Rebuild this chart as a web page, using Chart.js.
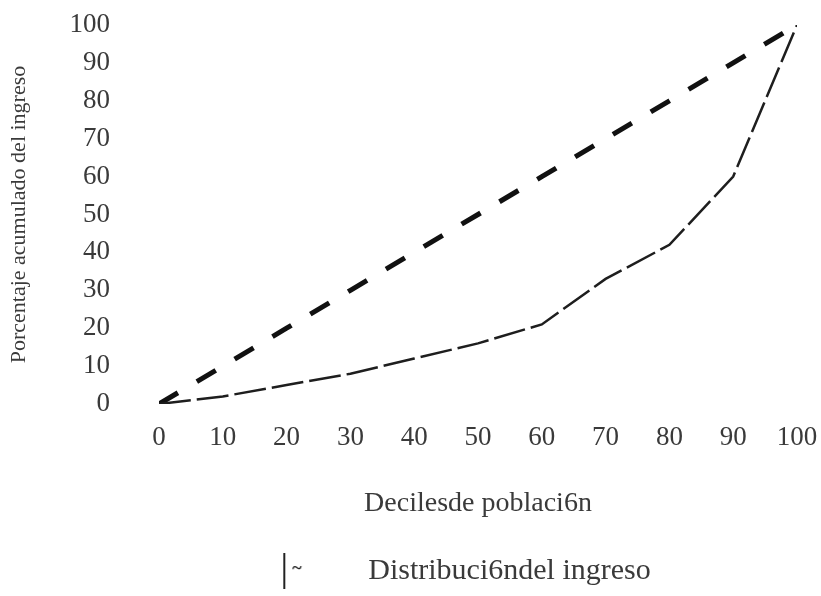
<!DOCTYPE html>
<html>
<head>
<meta charset="utf-8">
<script src="https://cdn.jsdelivr.net/npm/chart.js@4.4.1/dist/chart.umd.min.js"></script>
<style>
  html, body { margin: 0; padding: 0; background: #fff; }
  #wrap { width: 821px; height: 596px; }
</style>
</head>
<body>
<div id="wrap"><canvas id="lorenz"></canvas></div>
<script>
// deciles de población (eje x) y porcentaje acumulado del ingreso (eje y)
const deciles = [0, 10, 20, 30, 40, 50, 60, 70, 80, 90, 100];
const igualdad = [0, 10, 20, 30, 40, 50, 60, 70, 80, 90, 100];
const ingresoAcum = [0, 2, 5, 8, 12, 16, 21, 33, 42, 60, 100];
const ticksX = [0, 10, 20, 30, 40, 50, 60, 70, 80, 90, 100];

const serif = '"Liberation Serif", "Times New Roman", serif';
const gris = '#3a3a3a';
const legendLabel = 'Distribuci6ndel ingreso';
const legendSize = 30;

function toPoints(xs, ys) {
    return xs.map((x, i) => ({ x: x, y: ys[i] }));
}

// marcador de la leyenda: barra vertical con una pequeña tilde,
// el ancho sirve para dejar el texto donde estaba en el original
function legendMark() {
    const m = document.createElement('canvas').getContext('2d');
    m.font = legendSize + 'px ' + serif;
    const tw = m.measureText(legendLabel).width;
    const w = Math.max(40, Math.round(tw - 99));
    const start = 410.5 - (w + legendSize / 2 + tw) / 2;
    const barX = Math.round(283 - start);

    const c = document.createElement('canvas');
    c.width = w;
    c.height = 36;
    const g = c.getContext('2d');
    g.fillStyle = '#222';
    g.fillRect(barX, 0, 2, 36);
    g.font = 'bold 18px ' + serif;
    g.textBaseline = 'middle';
    g.fillText('~', barX + 9, 16);
    return c;
}

const mark = legendMark();

new Chart(document.getElementById('lorenz'), {
    type: 'line',
    data: {
        datasets: [{
            label: legendLabel,
            data: toPoints(deciles, ingresoAcum),
            borderColor: '#1e1e1e',
            borderWidth: 2.5,
            borderDash: [32, 6],
            pointRadius: 0,
            fill: false,
            tension: 0
        }, {
            label: 'igualdad',
            data: toPoints(deciles, igualdad),
            borderColor: '#111',
            borderWidth: 5,
            borderDash: [22, 22],
            pointRadius: 0,
            fill: false,
            tension: 0
        }]
    },
    options: {
        responsive: true,
        maintainAspectRatio: false,
        animation: false,
        layout: {
            padding: { left: 0, right: 0, top: 0, bottom: 0 }
        },
        plugins: {
            legend: {
                position: 'bottom',
                labels: {
                    filter: item => item.datasetIndex === 0,
                    usePointStyle: true,
                    pointStyle: mark,
                    pointStyleWidth: mark.width,
                    color: gris,
                    font: { family: serif, size: legendSize },
                    padding: 10
                }
            },
            tooltip: { enabled: false }
        },
        scales: {
            x: {
                type: 'linear',
                min: 0,
                max: 100,
                afterBuildTicks: axis => { axis.ticks = ticksX.map(v => ({ value: v })); },
                afterFit: s => { s.paddingLeft = 8; s.paddingRight = 24; },
                grid: { display: false, drawTicks: false },
                border: { display: false },
                ticks: {
                    color: gris,
                    font: { family: serif, size: 27 },
                    padding: 18,
                    maxRotation: 0,
                    autoSkip: false
                },
                title: {
                    display: true,
                    text: 'Decilesde poblaci6n',
                    color: gris,
                    font: { family: serif, size: 28 },
                    padding: { top: 14, bottom: 26 }
                }
            },
            y: {
                min: 0,
                max: 100,
                afterFit: s => { s.width = 159; s.paddingTop = 25; s.paddingBottom = 14; },
                grid: { display: false, drawTicks: false },
                border: { display: false },
                ticks: {
                    stepSize: 10,
                    autoSkip: false,
                    color: gris,
                    font: { family: serif, size: 27 },
                    padding: 49
                },
                title: {
                    display: true,
                    text: 'Porcentaje acumulado del ingreso',
                    color: gris,
                    font: { family: serif, size: 22 },
                    padding: { top: 6, bottom: 38 }
                }
            }
        }
    }
});
</script>
</body>
</html>
